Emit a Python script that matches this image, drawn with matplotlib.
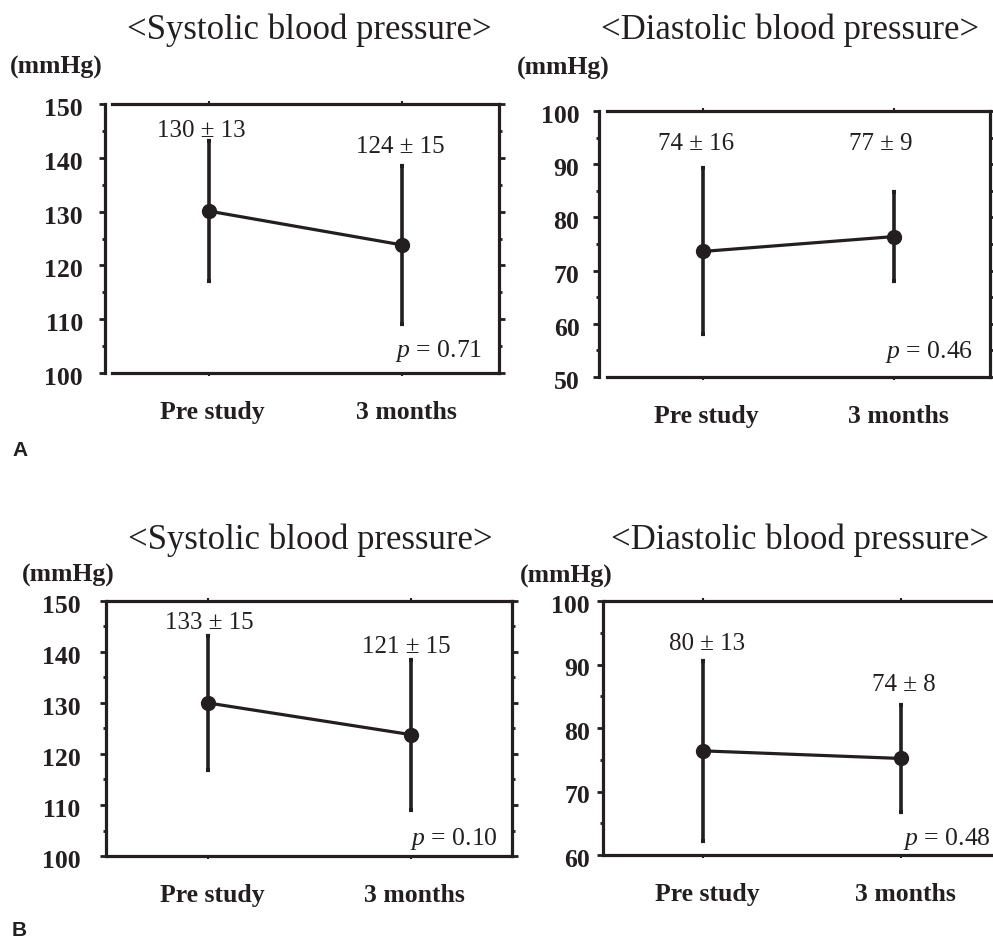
import matplotlib
matplotlib.use("Agg")
import matplotlib.pyplot as plt
from matplotlib.ticker import MultipleLocator
from matplotlib.transforms import ScaledTranslation

plt.rcParams['font.family'] = ['Liberation Serif', 'DejaVu Serif']
plt.rcParams['mathtext.fontset'] = 'custom'
plt.rcParams['mathtext.it'] = 'Liberation Serif:italic'
plt.rcParams['mathtext.rm'] = 'Liberation Serif'

# ---------------- data ----------------
categories = ["Pre study", "3 months"]

titles = ["<Systolic blood pressure>", "<Diastolic blood pressure>"]
unit_label = "(mmHg)"
panel_letters = ["A", "B"]

# Panel A
a_sys_mean = [130.1, 123.8]
a_sys_sd = [13.0, 14.6]
a_sys_labels = ["130 ± 13", "124 ± 15"]
a_sys_p = "0.71"

a_dia_mean = [73.6, 76.4]
a_dia_sd = [15.6, 8.3]
a_dia_labels = ["74 ± 16", "77 ± 9"]
a_dia_p = "0.46"

# Panel B
b_sys_mean = [130.0, 123.8]
b_sys_sd = [13.2, 14.7]
b_sys_labels = ["133 ± 15", "121 ± 15"]
b_sys_p = "0.10"

b_dia_mean = [76.4, 75.2]
b_dia_sd = [14.2, 8.4]
b_dia_labels = ["80 ± 13", "74 ± 8"]
b_dia_p = "0.48"

a_sys_ylim = (100, 150)
a_dia_ylim = (50, 100)
b_sys_ylim = (100, 150)
b_dia_ylim = (60, 100)

# ---------------- layout ----------------
W, H = 993, 939
fig = plt.figure(figsize=(W / 100, H / 100), dpi=100)
INK = '#231f20'
TICK_FS = 18.5
ANN_FS = 18


def px_axes(x0, y0, x1, y1):
    return fig.add_axes([x0 / W, 1 - y1 / H, (x1 - x0) / W, (y1 - y0) / H])


def panel(box, spine_off, ylim, means, sds, labels, label_pos, pval, p_pos, ylab_pad):
    ax = px_axes(*box)
    x = list(range(len(categories)))
    ax.errorbar(x, means, yerr=sds, fmt='-o', color=INK, ms=10, lw=2.3,
                elinewidth=2.6, capsize=1.2, capthick=3.0, zorder=3)
    ax.set_xlim(-0.5, 1.5)
    ax.set_ylim(*ylim)
    ax.yaxis.set_major_locator(MultipleLocator(10))
    ax.yaxis.set_minor_locator(MultipleLocator(5))
    ax.set_xticks(x)
    ax.set_xticklabels(categories, fontsize=TICK_FS, fontweight='bold')
    for sp in ax.spines.values():
        sp.set_linewidth(2.3)
        sp.set_color(INK)
    ax.spines['left'].set_position(('outward', spine_off))
    ax.tick_params(axis='y', which='major', direction='out', length=4, width=2.0,
                   left=True, right=True, labelsize=TICK_FS, pad=ylab_pad, colors=INK)
    ax.tick_params(axis='y', which='minor', direction='out', length=2.5, width=2.0,
                   left=True, right=True, colors=INK)
    ax.tick_params(axis='x', which='major', direction='out', length=2.5, width=1.5,
                   top=True, bottom=True, pad=18, colors=INK)
    shift = ScaledTranslation(0, -3 / 100, fig.dpi_scale_trans)
    for lab in ax.get_yticklabels():
        lab.set_fontweight('bold')
        lab.set_transform(lab.get_transform() + shift)
    xshift = ScaledTranslation(4 / 100, 0, fig.dpi_scale_trans)
    for lab in ax.get_xticklabels():
        lab.set_transform(lab.get_transform() + xshift)
    for txt, (lx, ly) in zip(labels, label_pos):
        ax.text(lx, ly, txt, ha='center', va='baseline', fontsize=ANN_FS, color=INK)
    ax.text(p_pos[0], p_pos[1], r"$p$ = " + pval, transform=ax.transAxes,
            ha='right', va='baseline', fontsize=ANN_FS + 0.5, color=INK)
    return ax


panel((112, 104, 499, 373), 5.0, a_sys_ylim, a_sys_mean, a_sys_sd, a_sys_labels,
      [(-0.04, 143.9), (0.99, 140.9)], a_sys_p, (0.956, 0.059), 12)
panel((607, 111, 990, 377), 5.8, a_dia_ylim, a_dia_mean, a_dia_sd, a_dia_labels,
      [(-0.037, 92.7), (0.932, 92.7)], a_dia_p, (0.956, 0.071), 10)
panel((107, 601, 512, 856), 1.0, b_sys_ylim, b_sys_mean, b_sys_sd, b_sys_labels,
      [(0.005, 144.5), (0.98, 139.8)], b_sys_p, (0.965, 0.043), 14)
panel((604, 601, 1000, 855), 1.0, b_dia_ylim, b_dia_mean, b_dia_sd, b_dia_labels,
      [(0.02, 92.3), (1.015, 85.8)], b_dia_p, (0.977, 0.039), 5)


def ftext(x, y, s, **kw):
    fig.text(x / W, 1 - y / H, s, **kw)


# titles
ftext(309, 39, titles[0], ha='center', va='baseline', fontsize=25, color=INK)
ftext(790, 39, titles[1], ha='center', va='baseline', fontsize=25, color=INK)
ftext(310, 549, titles[0], ha='center', va='baseline', fontsize=25, color=INK)
ftext(800, 549, titles[1], ha='center', va='baseline', fontsize=25, color=INK)

# unit labels
for (ux, uy) in [(10, 74), (517, 75), (22, 582), (520, 583)]:
    ftext(ux, uy, unit_label, ha='left', va='baseline', fontsize=18.5,
          fontweight='bold', color=INK)

# panel letters
ftext(12, 456, panel_letters[0], ha='left', va='baseline', fontsize=15,
      fontweight='bold', family='Liberation Sans', color=INK)
ftext(12, 936, panel_letters[1], ha='left', va='baseline', fontsize=15,
      fontweight='bold', family='Liberation Sans', color=INK)

fig.savefig("out.png", dpi=100)
